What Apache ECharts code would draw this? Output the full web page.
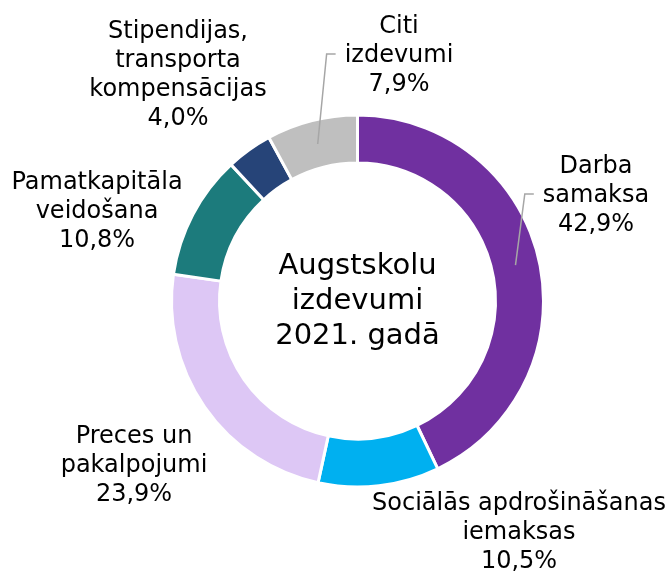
<!DOCTYPE html>
<html>
<head>
<meta charset="utf-8">
<script src="https://cdn.jsdelivr.net/npm/echarts@6/dist/echarts.min.js"></script>
<style>
  html, body { margin: 0; padding: 0; background: #fff; }
  #chart { width: 668px; height: 574px; }
</style>
</head>
<body>
<div id="chart"></div>
<script>
var categories = [
  'Darba\nsamaksa',
  'Sociālās apdrošināšanas\niemaksas',
  'Preces un\npakalpojumi',
  'Pamatkapitāla\nveidošana',
  'Stipendijas,\ntransporta\nkompensācijas',
  'Citi\nizdevumi'
];
var values = [42.9, 10.5, 23.9, 10.8, 4.0, 7.9];
var colors = ['#7030A0', '#00B0F0', '#DDC7F5', '#1C7B7C', '#264478', '#BFBFBF'];
var withLine = [true, false, false, false, false, true];
var centerTitle = 'Augstskolu\nizdevumi\n2021. gadā';

// label block centres (px)
var labelPos = [[596, 196], [519, 533], [134, 466], [97, 212], [178, 75], [399, 56]];

var cx = 357.5, cy = 301, rIn = 138, rOut = 186;
var font = 'DejaVu Sans, Verdana, sans-serif';
var labelSize = 24;

var total = values.reduce(function (a, b) { return a + b; }, 0);
var chart = echarts.init(document.getElementById('chart'));

function midAngle(idx) {
  var acc = 0;
  for (var i = 0; i < idx; i++) acc += values[i];
  return (acc + values[idx] / 2) / total * Math.PI * 2;
}

function fmt(v) {
  return v.toFixed(1).replace('.', ',') + '%';
}

// width of the widest line of a label
var ctx = document.createElement('canvas').getContext('2d');
ctx.font = labelSize + 'px ' + font;
function labelWidth(i) {
  var lines = (categories[i] + '\n' + fmt(values[i])).split('\n');
  return Math.max.apply(null, lines.map(function (s) { return ctx.measureText(s).width; }));
}

// leader lines: from the middle of the ring at the slice's mid angle up to the label
var guides = [];
values.forEach(function (v, i) {
  if (!withLine[i]) return;
  var a = midAngle(i);
  var rm = (rIn + rOut) / 2;
  var sx = cx + rm * Math.sin(a), sy = cy - rm * Math.cos(a);
  var left = labelPos[i][0] - labelWidth(i) / 2;
  var ly = labelPos[i][1] - 2;
  guides.push({
    type: 'polyline',
    silent: true,
    z: 10,
    shape: { points: [[sx, sy], [left - 18, ly], [left - 9, ly]] },
    style: { stroke: '#A6A6A6', lineWidth: 1.5, fill: null }
  });
});

var data = values.map(function (v, i) {
  return {
    name: categories[i],
    value: v,
    itemStyle: { color: colors[i] }
  };
});

chart.setOption({
  animation: false,
  graphic: [{
    type: 'text',
    x: cx,
    y: cy,
    style: {
      text: centerTitle,
      align: 'center',
      verticalAlign: 'middle',
      fontSize: 29,
      lineHeight: 35,
      fontFamily: font,
      fill: '#000'
    }
  }].concat(guides),
  series: [{
    type: 'pie',
    center: [cx, cy],
    radius: [rIn, rOut],
    startAngle: 90,
    clockwise: true,
    avoidLabelOverlap: false,
    itemStyle: { borderColor: '#fff', borderWidth: 3 },
    label: {
      show: true,
      position: 'outside',
      formatter: function (p) {
        return p.name + '\n' + fmt(p.value);
      },
      fontSize: labelSize,
      lineHeight: 29,
      fontFamily: font,
      color: '#000',
      align: 'center'
    },
    labelLine: { show: false },
    labelLayout: function (p) {
      var pos = labelPos[p.dataIndex];
      return { x: pos[0], y: pos[1], align: 'center', verticalAlign: 'middle' };
    },
    data: data
  }]
});
</script>
</body>
</html>
